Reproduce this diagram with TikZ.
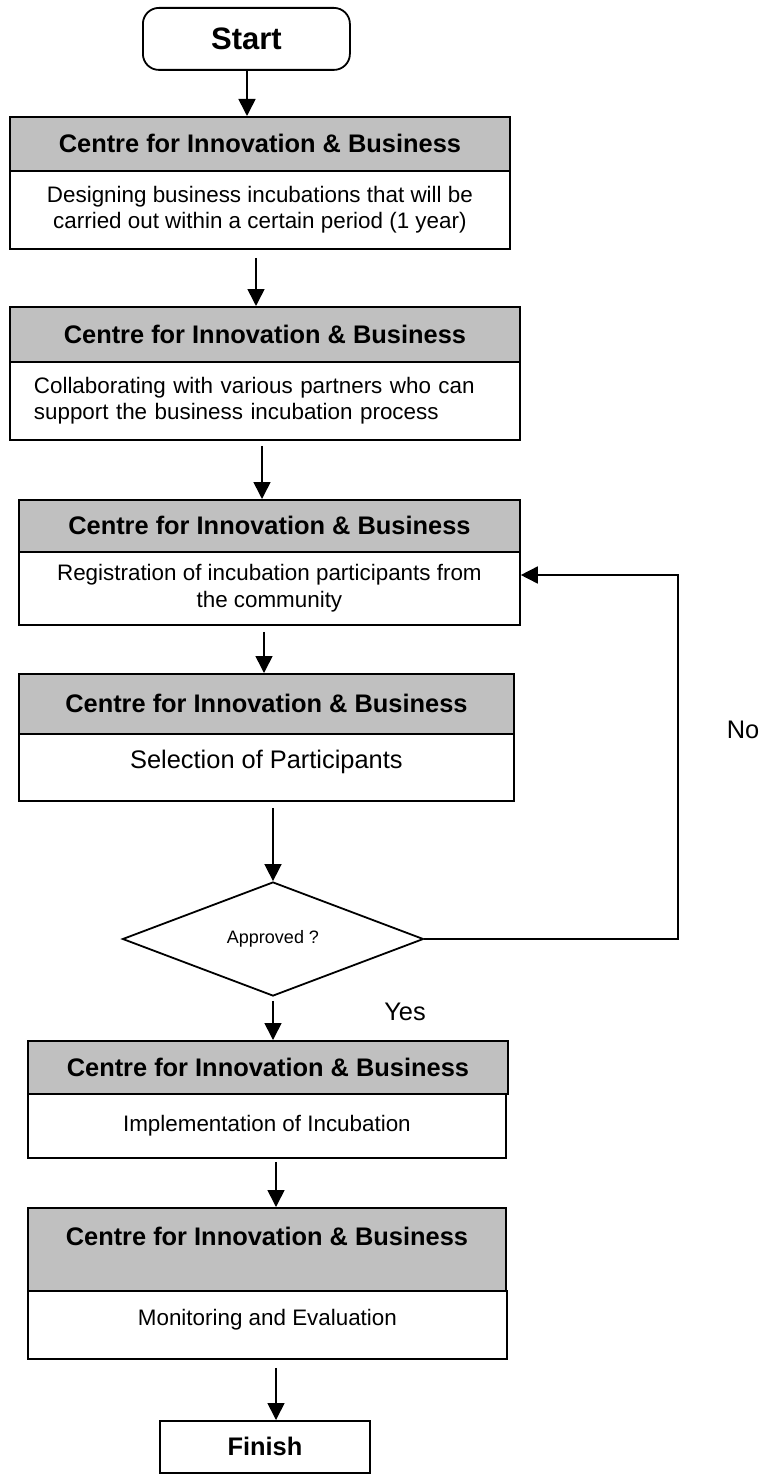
\documentclass[tikz,border=0pt]{standalone}
\usepackage{fontspec}
\setmainfont{Liberation Sans}
\usetikzlibrary{shapes.geometric,arrows.meta}
\definecolor{hdgray}{RGB}{192,192,192}

\tikzset{
  box/.style={draw, line width=1.8pt, inner sep=0pt, anchor=north west},
  head/.style={box, fill=hdgray, font=\fontsize{25.4}{30}\selectfont\bfseries},
  body/.style={box, fill=white, align=center, font=\fontsize{22.4}{26.5}\selectfont},
  flow/.style={line width=1.6pt, -{Triangle[length=17pt,width=17pt]}},
  tag/.style={font=\fontsize{25.4}{30}\selectfont},
}

\begin{document}
\begin{tikzpicture}[x=1pt,y=-1pt]
\useasboundingbox (0,0) rectangle (760,1482);

\node[box, rounded corners=16pt, minimum width=207pt, minimum height=62pt,
  font=\fontsize{31}{36}\selectfont\bfseries] (start) at (142,7) {Start};

% stages
\node[head, minimum width=500pt, minimum height=54pt] (hdA) at (9,116) {Centre for Innovation \& Business};
\node[body, minimum width=500pt, minimum height=78pt] (bdA) at (9,170)
  {Designing business incubations that will be\\carried out within a certain period (1 year)};

\node[head, minimum width=510pt, minimum height=55pt] (hdB) at (9,306) {Centre for Innovation \& Business};
\node[body, minimum width=510pt, minimum height=78pt, align=left, inner xsep=24pt, text width=462pt] (bdB) at (9,361)
  {Collaborating with various partners who can\\support the business incubation process};

\node[head, minimum width=501pt, minimum height=52pt] (hdC) at (18,499) {Centre for Innovation \& Business};
\node[body, minimum width=501pt, minimum height=73pt] (bdC) at (18,551)
  {Registration of incubation participants from\\the community};

\node[head, minimum width=495pt, minimum height=60pt] (hdD) at (18,673) {Centre for Innovation \& Business};
\node[body, minimum width=495pt, minimum height=67pt, font=\fontsize{25.4}{30}\selectfont,
  text height=18pt, text depth=15pt] (bdD) at (18,733) {Selection of Participants};

\node[draw, line width=1.8pt, diamond, inner sep=0pt, minimum width=301pt, minimum height=114pt,
  font=\fontsize{18}{22}\selectfont] (dec) at (273,939) {Approved ?};

\node[head, minimum width=480pt, minimum height=53pt] (hdE) at (27,1040) {Centre for Innovation \& Business};
\node[body, minimum width=478pt, minimum height=64pt] (bdE) at (27,1093) {Implementation of Incubation};

\node[head, minimum width=478pt, minimum height=83pt, text height=18pt, text depth=25pt] (hdF) at (27,1207)
  {Centre for Innovation \& Business};
\node[body, minimum width=479pt, minimum height=68pt, text height=16pt, text depth=14pt] (bdF) at (27,1290)
  {Monitoring and Evaluation};

\node[box, minimum width=210pt, minimum height=52pt,
  font=\fontsize{25.4}{30}\selectfont\bfseries] (fin) at (159,1420) {Finish};

\node[tag] (no) at (743,730) {No};
\node[tag] (yes) at (405,1012) {Yes};

% connectors
\foreach \i/\j/\x/\g in {start/hdA/247/0, bdA/hdB/256/8, bdB/hdC/262/5, bdC/hdD/264/6,
                         bdD/dec/273/6, dec/hdE/273/4, bdE/hdF/276/3, bdF/fin/276/8}
    \draw[flow, shorten <=\g pt] (\x,0 |- \i.south) -- (\x,0 |- \j.north);

\coordinate (ret) at (678,575);
\draw[flow] (dec.east) -| (ret) -- (bdC.east |- ret);

\end{tikzpicture}
\end{document}
